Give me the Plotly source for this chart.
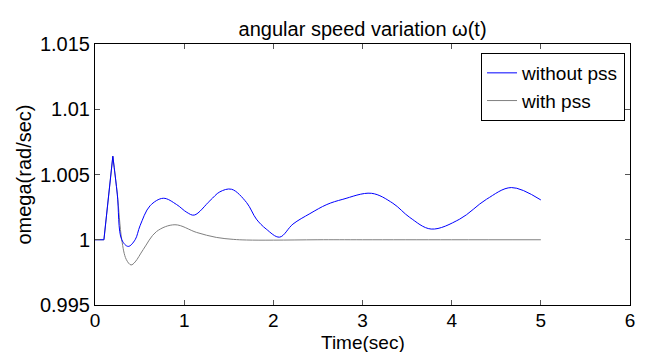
import plotly.graph_objects as go

# Shared start of both responses (flat, then the disturbance spike)
t_head = [0.0, 0.1, 0.2]
w_head = [1.0, 1.0, 1.0064]

# without PSS (blue), from the spike peak onwards
t_blue = [0.2, 0.25, 0.30, 0.373, 0.45, 0.505, 0.617, 0.766, 0.915, 1.03, 1.113,
          1.29, 1.40, 1.532, 1.70, 1.81, 1.92, 2.07, 2.22, 2.41, 2.60, 2.78, 3.10,
          3.34, 3.53, 3.77, 4.09, 4.39, 4.67, 5.0]
w_blue = [1.0064, 1.0035, 1.0, 0.99949, 1.0, 1.00107, 1.0026, 1.00318, 1.0027, 1.0021,
          1.00189, 1.003, 1.00367, 1.00387, 1.00285, 1.00158, 1.00082, 1.0002, 1.0012,
          1.002, 1.0027, 1.0031, 1.00356, 1.0028, 1.00171, 1.00082, 1.00158, 1.0031,
          1.004, 1.00305]

# with PSS (gray), from the spike peak onwards
t_gray = [0.2, 0.25, 0.30, 0.35, 0.404, 0.45, 0.54, 0.69, 0.897, 1.14, 1.36, 1.55,
          1.7, 2.0, 2.5, 3.0, 4.0, 5.0]
w_gray = [1.0064, 1.0035, 1.0, 0.9985, 0.99807, 0.9983, 0.99924, 1.00063, 1.00115,
          1.00056, 1.00018, 1.00003, 0.99998, 0.99997, 1.0, 1.0, 1.0, 1.0]

x_ticks = [0, 1, 2, 3, 4, 5, 6]
y_ticks = [0.995, 1.0, 1.005, 1.01, 1.015]
y_ticktext = ["0.995", "1", "1.005", "1.01", "1.015"]

BLUE = "#0000FF"
GRAY = "#808080"
FONT = "Arial, Liberation Sans, sans-serif"

fig = go.Figure()
# gray first so blue is drawn on top
fig.add_trace(go.Scatter(x=t_head, y=w_head, mode="lines", line=dict(color=GRAY, width=1),
                         legendgroup="with", showlegend=False, hoverinfo="skip"))
fig.add_trace(go.Scatter(x=t_gray, y=w_gray, mode="lines", name="with pss",
                         line=dict(color=GRAY, width=1, shape="spline", smoothing=1.0),
                         legendgroup="with", legendrank=2))
fig.add_trace(go.Scatter(x=t_head, y=w_head, mode="lines", line=dict(color=BLUE, width=1),
                         legendgroup="without", showlegend=False, hoverinfo="skip"))
fig.add_trace(go.Scatter(x=t_blue, y=w_blue, mode="lines", name="without pss",
                         line=dict(color=BLUE, width=1, shape="spline", smoothing=1.0),
                         legendgroup="without", legendrank=1))

axis_common = dict(showline=True, linecolor="black", linewidth=1, mirror="ticks",
                   ticks="inside", ticklen=5, tickcolor="#555555", showgrid=False,
                   zeroline=False, automargin=False)

fig.update_layout(
    width=651, height=352,
    margin=dict(l=95, r=21, t=44, b=47),
    paper_bgcolor="white", plot_bgcolor="white",
    font=dict(family=FONT, size=20, color="black"),
    title=dict(text="angular speed variation \u03c9(t)", x=0.557, xanchor="center",
               y=1 - 29 / 352, yanchor="middle", yref="container",
               font=dict(size=20, color="black", family=FONT)),
    xaxis=dict(range=[0, 6], tickvals=x_ticks, ticklabelstandoff=-2,
               tickfont=dict(size=19, color="black", family=FONT),
               **axis_common),
    yaxis=dict(range=[0.995, 1.015], tickvals=y_ticks, ticktext=y_ticktext,
               tickfont=dict(size=20, color="black", family=FONT),
               title=dict(text="omega(rad/sec)", standoff=2, font=dict(size=20)),
               **axis_common),
    legend=dict(x=0.9907, xanchor="right", y=0.9655, yanchor="top",
                bordercolor="black", borderwidth=1, bgcolor="white",
                font=dict(size=19, color="black", family=FONT),
                itemwidth=30, tracegroupgap=0),
    showlegend=True,
    annotations=[dict(text="Time(sec)", xref="paper", yref="paper", x=0.5,
                      y=-(342 - 305) / 261, xanchor="center", yanchor="middle",
                      showarrow=False, font=dict(size=19, color="black", family=FONT))],
)

fig.write_html("out.html")
